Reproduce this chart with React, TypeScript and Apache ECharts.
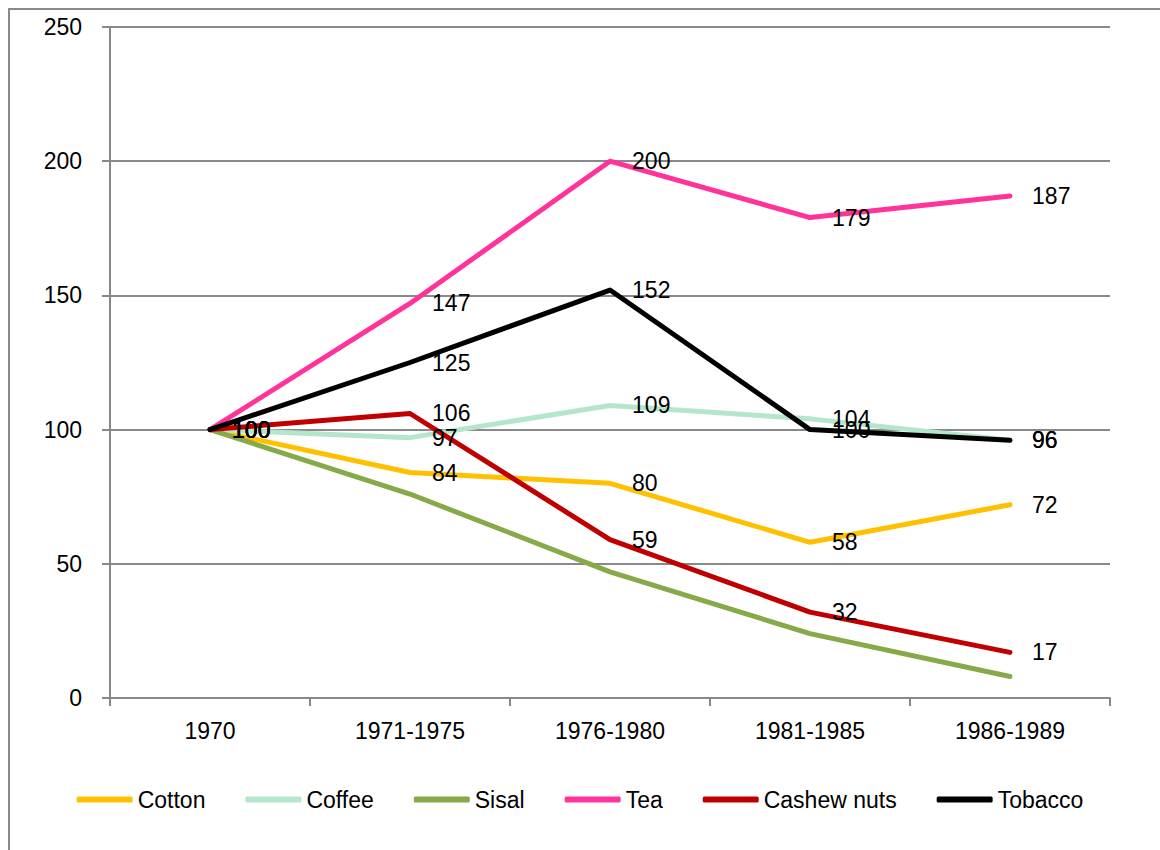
import React, { useEffect, useRef } from "react";
import * as echarts from "echarts";

// Export volume indices (1970 = 100)
const periods = ["1970", "1971-1975", "1976-1980", "1981-1985", "1986-1989"];
const cotton = [100, 84, 80, 58, 72];
const coffee = [100, 97, 109, 104, 96];
const sisal = [100, 76, 47, 24, 8];
const tea = [100, 147, 200, 179, 187];
const cashew = [100, 106, 59, 32, 17];
const tobacco = [100, 125, 152, 100, 96];

const FONT = "Liberation Sans";

type S = { name: string; data: number[]; color: string; labels: boolean };

const seriesDefs: S[] = [
  { name: "Cotton", data: cotton, color: "#FFC000", labels: true },
  { name: "Coffee", data: coffee, color: "#B3E6CB", labels: true },
  { name: "Sisal", data: sisal, color: "#86A94A", labels: false },
  { name: "Tea", data: tea, color: "#FF3399", labels: true },
  { name: "Cashew nuts", data: cashew, color: "#C00000", labels: true },
  { name: "Tobacco", data: tobacco, color: "#000000", labels: true },
];

export default function App() {
  const ref = useRef<HTMLDivElement>(null);

  useEffect(() => {
    if (!ref.current) return;
    const chart = echarts.init(ref.current, undefined, { renderer: "svg" });
    const axisGray = "#898989";

    chart.setOption({
      animation: false,
      backgroundColor: "#ffffff",
      textStyle: { fontFamily: FONT },
      graphic: [
        {
          type: "rect",
          shape: { x: 9, y: 9, width: 1160, height: 860 },
          style: { fill: "none", stroke: axisGray, lineWidth: 2 },
          silent: true,
          z: -1,
        },
      ],
      grid: { left: 110, top: 27, width: 1000, height: 671, containLabel: false },
      legend: {
        bottom: 34,
        left: "center",
        itemWidth: 56,
        itemHeight: 6,
        itemGap: 40,
        icon: "roundRect",
        textStyle: { fontFamily: FONT, fontSize: 23, color: "#000" },
        data: seriesDefs.map((s) => ({ name: s.name, itemStyle: { color: s.color, opacity: 1 } })),
      },
      xAxis: {
        type: "category",
        data: periods,
        boundaryGap: true,
        axisLine: { show: true, lineStyle: { color: axisGray, width: 2 } },
        axisTick: { show: true, length: 8, interval: 0, lineStyle: { color: axisGray, width: 2 } },
        axisLabel: { fontFamily: FONT, fontSize: 23, color: "#000", margin: 21, interval: 0 },
        splitLine: { show: false },
      },
      yAxis: {
        type: "value",
        min: 0,
        max: 250,
        interval: 50,
        axisLine: { show: true, lineStyle: { color: axisGray, width: 2 } },
        axisTick: { show: true, length: 8, lineStyle: { color: axisGray, width: 2 } },
        axisLabel: { fontFamily: FONT, fontSize: 23, color: "#000", margin: 28 },
        splitLine: { show: true, lineStyle: { color: axisGray, width: 2 } },
      },
      series: seriesDefs.map((s) => ({
        name: s.name,
        type: "line",
        data: s.data,
        color: s.color,
        symbol: "circle",
        symbolSize: 0.1,
        showSymbol: true,
        itemStyle: { color: s.color },
        lineStyle: { color: s.color, width: 5, cap: "round", join: "round" },
        label: {
          show: s.labels,
          position: "right",
          distance: 22,
          offset: [0, 3],
          fontFamily: FONT,
          fontSize: 23,
          color: "#000",
          formatter: (p: any) => String(p.value),
        },
        labelLayout: { hideOverlap: false },
        emphasis: { disabled: true },
      })),
    });

    return () => chart.dispose();
  }, []);

  return (
    <div
      ref={ref}
      style={{ position: "absolute", left: 0, top: 0, width: 1160, height: 850 }}
    />
  );
}
